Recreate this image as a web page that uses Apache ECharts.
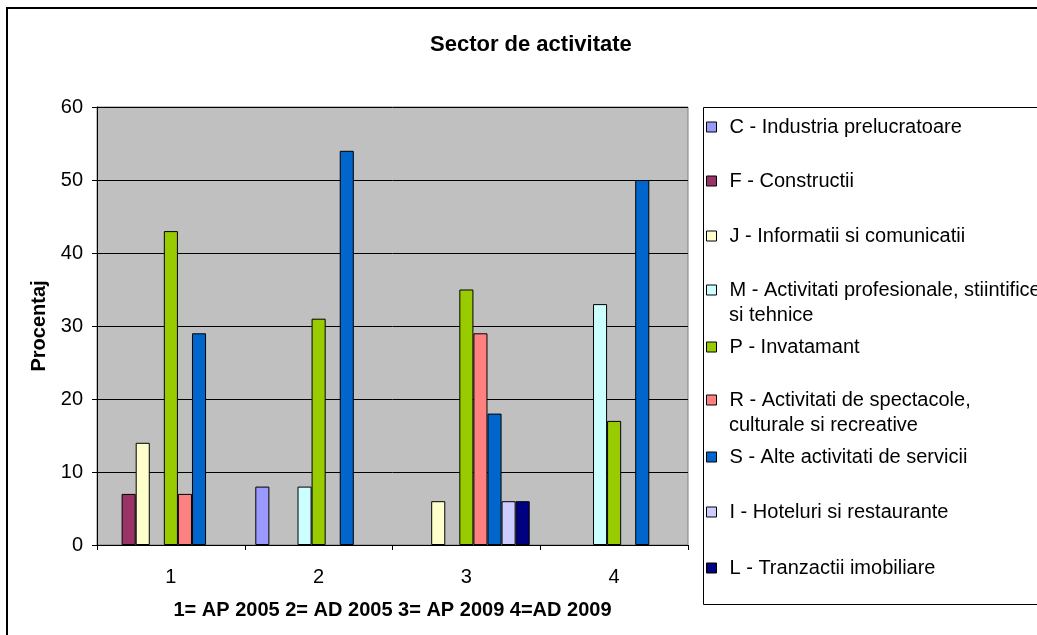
<!DOCTYPE html>
<html>
<head>
<meta charset="utf-8">
<script src="https://cdn.jsdelivr.net/npm/echarts@6/dist/echarts.min.js"></script>
<style>
html, body { margin: 0; padding: 0; background: #fff; }
#chart { width: 1037px; height: 635px; }
</style>
</head>
<body>
<div id="chart"></div>
<script>
var categories = ['1', '2', '3', '4'];

var seriesNames = [
    'C - Industria prelucratoare',
    'F - Constructii',
    'J - Informatii si comunicatii',
    'M - Activitati profesionale, stiintifice si tehnice',
    'P - Invatamant',
    'R - Activitati de spectacole, culturale si recreative',
    'S - Alte activitati de servicii',
    'I - Hoteluri si restaurante',
    'L - Tranzactii imobiliare'
];

// values per sector, one per category (null = no bar)
var valC = [null, 8, null, null];
var valF = [7, null, null, null];
var valJ = [14, null, 6, null];
var valM = [null, 8, null, 33];
var valP = [43, 31, 35, 17];
var valR = [7, null, 29, null];
var valS = [29, 54, 18, 50];
var valI = [null, null, 6, null];
var valL = [null, null, 6, null];

var allValues = [valC, valF, valJ, valM, valP, valR, valS, valI, valL];
var colors = ['#9999FF', '#993366', '#FFFFCC', '#CCFFFF', '#99CC00', '#FF8080', '#0066CC', '#CCCCFF', '#000080'];

// legend labels: first line in legend, second line as extra text
var legendFirst = [
    'C - Industria prelucratoare',
    'F - Constructii',
    'J - Informatii si comunicatii',
    'M - Activitati profesionale, stiintifice',
    'P - Invatamant',
    'R - Activitati de spectacole,',
    'S - Alte activitati de servicii',
    'I - Hoteluri si restaurante',
    'L - Tranzactii imobiliare'
];
var legendSecond = ['', '', '', 'si tehnice', '', 'culturale si recreative', '', '', ''];
var legendY = [127, 181, 236, 290, 347, 400, 457, 512, 568];

var font = '"Liberation Sans", Arial, sans-serif';

var series = [];
var legends = [];
var extraText = [];
for (var i = 0; i < seriesNames.length; i++) {
    series.push({
        name: seriesNames[i],
        type: 'bar',
        data: allValues[i],
        barGap: 0,
        barCategoryGap: '14.29%',
        itemStyle: { color: colors[i], borderColor: '#000', borderWidth: 1 },
        animation: false
    });
    (function (idx) {
        legends.push({
            data: [seriesNames[idx]],
            left: 706,
            top: legendY[idx] - 11,
            padding: 0,
            icon: 'rect',
            itemWidth: 10,
            itemHeight: 10,
            itemStyle: { borderColor: '#000', borderWidth: 1 },
            selectedMode: false,
            formatter: function () { return legendFirst[idx]; },
            textStyle: { fontFamily: font, fontSize: 20, lineHeight: 22, color: '#000', padding: [0, 0, 0, 8] }
        });
    })(i);
    if (legendSecond[i]) {
        extraText.push({
            type: 'text',
            left: 729,
            top: legendY[i] + 26 - 11,
            style: { text: legendSecond[i], font: '20px ' + font, fill: '#000' },
            z: 100
        });
    }
}

var chart = echarts.init(document.getElementById('chart'));
chart.setOption({
    backgroundColor: '#fff',
    animation: false,
    title: {
        text: 'Sector de activitate',
        left: 430,
        top: 34,
        padding: 0,
        textStyle: { fontFamily: font, fontSize: 22, fontWeight: 'bold', color: '#000' }
    },
    graphic: [
        {
            type: 'rect',
            shape: { x: 7, y: 8, width: 1100, height: 700 },
            style: { fill: 'none', stroke: '#000', lineWidth: 2 },
            z: -10
        },
        {
            type: 'rect',
            shape: { x: 703.5, y: 107.5, width: 400, height: 497 },
            style: { fill: '#fff', stroke: '#000', lineWidth: 1 },
            z: -5
        }
    ].concat(extraText),
    legend: legends,
    grid: {
        left: 97,
        top: 107,
        width: 591,
        height: 438,
        show: true,
        backgroundColor: '#C0C0C0',
        borderColor: '#808080',
        borderWidth: 1
    },
    xAxis: {
        type: 'category',
        data: categories,
        name: '1= AP 2005 2= AD 2005 3= AP 2009 4=AD 2009',
        nameLocation: 'middle',
        nameGap: 55,
        nameTextStyle: { fontFamily: font, fontSize: 20, fontWeight: 'bold', color: '#000' },
        axisLine: { lineStyle: { color: '#000' } },
        axisTick: { show: true, length: 5, lineStyle: { color: '#000' } },
        axisLabel: { fontFamily: font, fontSize: 20, color: '#000', margin: 22 }
    },
    yAxis: {
        type: 'value',
        min: 0,
        max: 60,
        interval: 10,
        name: 'Procentaj',
        nameLocation: 'middle',
        nameGap: 46,
        nameTextStyle: { fontFamily: font, fontSize: 20, fontWeight: 'bold', color: '#000' },
        axisLine: { show: true, lineStyle: { color: '#000' } },
        axisTick: { show: true, length: 5, lineStyle: { color: '#000' } },
        axisLabel: { fontFamily: font, fontSize: 20, color: '#000', margin: 14 },
        splitLine: { lineStyle: { color: '#000', width: 1 } }
    },
    series: series
});
</script>
</body>
</html>
